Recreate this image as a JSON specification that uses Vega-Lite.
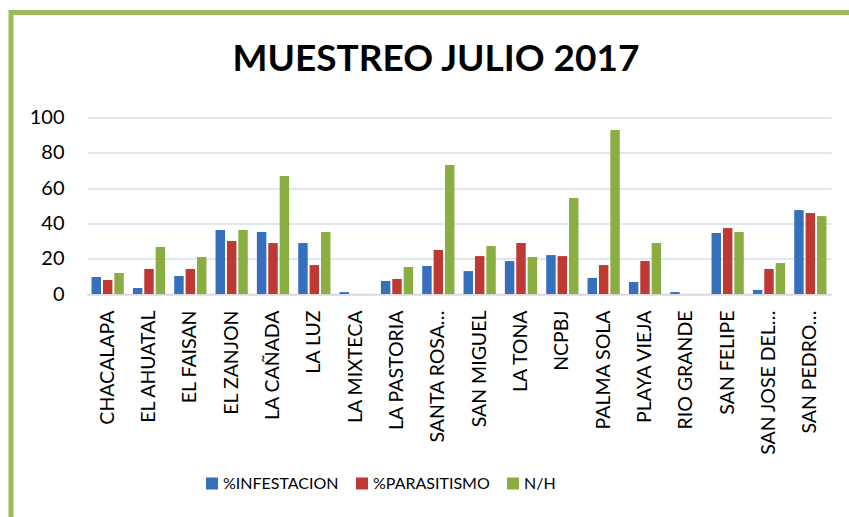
{
  "$schema": "https://vega.github.io/schema/vega-lite/v6.json",
  "autosize": {"type": "none"},
  "padding": {"left": 11, "top": 12.5, "right": 0, "bottom": 0},
  "width": 838,
  "height": 504.5,
  "background": "white",
  "config": {
    "font": "Lato",
    "view": {"stroke": "#9BBB59", "strokeWidth": 5, "strokeDash": [838, 1342.5, 504.5], "strokeCap": "square", "fill": "white"}
  },
  "title": {"text": "MUESTREO JULIO 2017", "font": "Lato", "fontSize": 37, "fontWeight": "bold", "color": "#000000", "anchor": "middle", "offset": -66, "dx": 6},
  "data": {"values": [
    {"sitio": "CHACALAPA", "serie": "%INFESTACION", "valor": 9.6},
    {"sitio": "CHACALAPA", "serie": "%PARASITISMO", "valor": 7.9},
    {"sitio": "CHACALAPA", "serie": "N/H", "valor": 11.9},
    {"sitio": "EL AHUATAL", "serie": "%INFESTACION", "valor": 3.4},
    {"sitio": "EL AHUATAL", "serie": "%PARASITISMO", "valor": 14.2},
    {"sitio": "EL AHUATAL", "serie": "N/H", "valor": 26.7},
    {"sitio": "EL FAISAN", "serie": "%INFESTACION", "valor": 10.2},
    {"sitio": "EL FAISAN", "serie": "%PARASITISMO", "valor": 14.2},
    {"sitio": "EL FAISAN", "serie": "N/H", "valor": 21.0},
    {"sitio": "EL ZANJON", "serie": "%INFESTACION", "valor": 36.3},
    {"sitio": "EL ZANJON", "serie": "%PARASITISMO", "valor": 30.1},
    {"sitio": "EL ZANJON", "serie": "N/H", "valor": 36.3},
    {"sitio": "LA CAÑADA", "serie": "%INFESTACION", "valor": 35.2},
    {"sitio": "LA CAÑADA", "serie": "%PARASITISMO", "valor": 28.9},
    {"sitio": "LA CAÑADA", "serie": "N/H", "valor": 66.9},
    {"sitio": "LA LUZ", "serie": "%INFESTACION", "valor": 28.9},
    {"sitio": "LA LUZ", "serie": "%PARASITISMO", "valor": 16.4},
    {"sitio": "LA LUZ", "serie": "N/H", "valor": 35.2},
    {"sitio": "LA MIXTECA", "serie": "%INFESTACION", "valor": 1.1},
    {"sitio": "LA MIXTECA", "serie": "%PARASITISMO", "valor": 0},
    {"sitio": "LA MIXTECA", "serie": "N/H", "valor": 0},
    {"sitio": "LA PASTORIA", "serie": "%INFESTACION", "valor": 7.4},
    {"sitio": "LA PASTORIA", "serie": "%PARASITISMO", "valor": 8.5},
    {"sitio": "LA PASTORIA", "serie": "N/H", "valor": 15.3},
    {"sitio": "SANTA ROSA…", "serie": "%INFESTACION", "valor": 15.9},
    {"sitio": "SANTA ROSA…", "serie": "%PARASITISMO", "valor": 25.0},
    {"sitio": "SANTA ROSA…", "serie": "N/H", "valor": 73.2},
    {"sitio": "SAN MIGUEL", "serie": "%INFESTACION", "valor": 13.0},
    {"sitio": "SAN MIGUEL", "serie": "%PARASITISMO", "valor": 21.5},
    {"sitio": "SAN MIGUEL", "serie": "N/H", "valor": 27.2},
    {"sitio": "LA TONA", "serie": "%INFESTACION", "valor": 18.7},
    {"sitio": "LA TONA", "serie": "%PARASITISMO", "valor": 28.9},
    {"sitio": "LA TONA", "serie": "N/H", "valor": 21.0},
    {"sitio": "NCPBJ", "serie": "%INFESTACION", "valor": 22.1},
    {"sitio": "NCPBJ", "serie": "%PARASITISMO", "valor": 21.5},
    {"sitio": "NCPBJ", "serie": "N/H", "valor": 54.4},
    {"sitio": "PALMA SOLA", "serie": "%INFESTACION", "valor": 9.1},
    {"sitio": "PALMA SOLA", "serie": "%PARASITISMO", "valor": 16.4},
    {"sitio": "PALMA SOLA", "serie": "N/H", "valor": 93.0},
    {"sitio": "PLAYA VIEJA", "serie": "%INFESTACION", "valor": 6.8},
    {"sitio": "PLAYA VIEJA", "serie": "%PARASITISMO", "valor": 18.7},
    {"sitio": "PLAYA VIEJA", "serie": "N/H", "valor": 28.9},
    {"sitio": "RIO GRANDE", "serie": "%INFESTACION", "valor": 1.1},
    {"sitio": "RIO GRANDE", "serie": "%PARASITISMO", "valor": 0},
    {"sitio": "RIO GRANDE", "serie": "N/H", "valor": 0},
    {"sitio": "SAN FELIPE", "serie": "%INFESTACION", "valor": 34.6},
    {"sitio": "SAN FELIPE", "serie": "%PARASITISMO", "valor": 37.4},
    {"sitio": "SAN FELIPE", "serie": "N/H", "valor": 35.2},
    {"sitio": "SAN JOSE DEL…", "serie": "%INFESTACION", "valor": 2.3},
    {"sitio": "SAN JOSE DEL…", "serie": "%PARASITISMO", "valor": 14.2},
    {"sitio": "SAN JOSE DEL…", "serie": "N/H", "valor": 17.6},
    {"sitio": "SAN PEDRO…", "serie": "%INFESTACION", "valor": 47.6},
    {"sitio": "SAN PEDRO…", "serie": "%PARASITISMO", "valor": 45.9},
    {"sitio": "SAN PEDRO…", "serie": "N/H", "valor": 44.2}
  ]},
  "mark": {"type": "bar"},
  "encoding": {
    "x": {
      "field": "sitio", "type": "nominal", "sort": null,
      "scale": {"range": [76, 820], "paddingInner": 0.22, "paddingOuter": 0.11},
      "axis": {"title": null, "labelAngle": -90, "labelFontSize": 19.5, "labelColor": "#000000", "labelPadding": 16, "ticks": false, "domainColor": "#D9D9D9", "domainWidth": 1.5, "offset": -223, "labelLimit": 200}
    },
    "xOffset": {"field": "serie", "type": "nominal", "scale": {"paddingInner": 0.17}},
    "y": {
      "field": "valor", "type": "quantitative",
      "scale": {"domain": [0, 100], "nice": false, "range": [281.5, 105.2]},
      "axis": {"title": null, "values": [0, 20, 40, 60, 80, 100], "labelFontSize": 20, "labelColor": "#000000", "labelPadding": 23, "ticks": false, "domain": false, "grid": true, "gridColor": "#D5DFEE", "gridWidth": 1.6, "offset": -76}
    },
    "color": {
      "field": "serie", "type": "nominal",
      "scale": {
        "domain": ["%INFESTACION", "%PARASITISMO", "N/H"],
        "range": ["#3670BC", "#BE3834", "#8AAE42"]
      },
      "legend": {"title": null, "orient": "none", "legendX": 193, "legendY": 463, "direction": "horizontal", "symbolType": "square", "symbolSize": 144, "symbolStrokeWidth": 0, "labelFontSize": 16, "labelColor": "#000000", "labelOffset": 3, "columnPadding": 15}
    }
  }
}
